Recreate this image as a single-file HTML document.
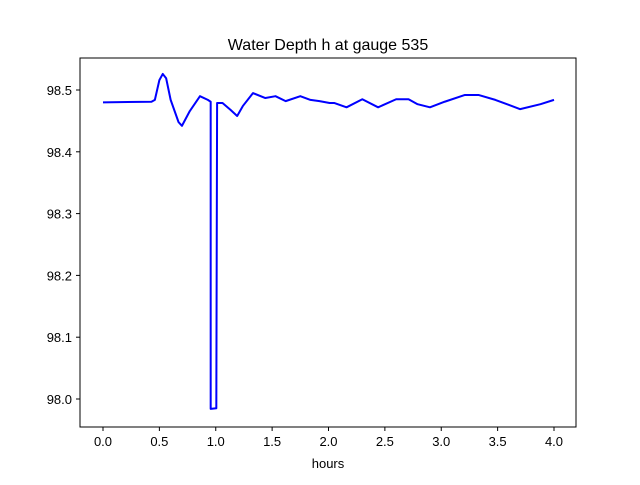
<!DOCTYPE html>
<html><head><meta charset="utf-8"><style>
body{margin:0;background:#fff;}
svg{font-family:"Liberation Sans","DejaVu Sans",sans-serif;}
</style></head><body>
<svg width="640" height="480">
<rect width="640" height="480" fill="#fff"/>
<text x="328" y="50" text-anchor="middle" font-size="16">Water Depth h at gauge 535</text>
<g id="ticks"></g>
<polyline id="line" fill="none" stroke="#0000ff" stroke-width="2" stroke-linejoin="round"/>
<rect x="80" y="58" width="496" height="369" fill="none" stroke="#000" stroke-width="1"/>
<text x="328" y="468" text-anchor="middle" font-size="13">hours</text>
</svg>
<script>
const hours=[0,0.43,0.46,0.5,0.53,0.56,0.6,0.67,0.7,0.77,0.86,0.93,0.955,0.955,1.005,1.012,1.06,1.13,1.19,1.24,1.33,1.44,1.53,1.62,1.75,1.84,1.92,2.01,2.05,2.16,2.3,2.44,2.6,2.71,2.79,2.9,3.03,3.21,3.33,3.48,3.7,3.88,4.0];
const depth=[98.48,98.481,98.484,98.516,98.526,98.519,98.484,98.448,98.442,98.466,98.49,98.484,98.481,97.984,97.985,98.479,98.479,98.468,98.458,98.474,98.495,98.487,98.49,98.482,98.49,98.484,98.482,98.479,98.479,98.472,98.485,98.472,98.485,98.485,98.477,98.472,98.481,98.492,98.492,98.484,98.469,98.477,98.484];
const xTicks=[0,0.5,1,1.5,2,2.5,3,3.5,4];
const yTicks=[98.0,98.1,98.2,98.3,98.4,98.5];
const xs=h=>103+h*112.75;
const ys=v=>90+(98.5-v)*618;
const NS="http://www.w3.org/2000/svg";
const line=document.getElementById('line');
line.setAttribute('points',hours.map((h,i)=>xs(h)+','+ys(depth[i])).join(' '));
const g=document.getElementById('ticks');
xTicks.forEach(t=>{
 const l=document.createElementNS(NS,'line');
 
 
 l.setAttribute('x1',xs(t));l.setAttribute('x2',xs(t));l.setAttribute('y1',427);l.setAttribute('y2',431);l.setAttribute('stroke','#000');
 g.appendChild(l);
 const tx=document.createElementNS(NS,'text');
 
 
 tx.setAttribute('x',xs(t));tx.setAttribute('y',446);tx.setAttribute('text-anchor','middle');tx.setAttribute('font-size','13');
 tx.textContent=t.toFixed(1);g.appendChild(tx);
});
yTicks.forEach(t=>{
 const l=document.createElementNS(NS,'line');
 
 
 l.setAttribute('x1',76);l.setAttribute('x2',80);l.setAttribute('y1',ys(t));l.setAttribute('y2',ys(t));l.setAttribute('stroke','#000');
 g.appendChild(l);
 const tx=document.createElementNS(NS,'text');
 
 
 tx.setAttribute('x',72);tx.setAttribute('y',ys(t)+5);tx.setAttribute('text-anchor','end');tx.setAttribute('font-size','13');
 tx.textContent=t.toFixed(1);g.appendChild(tx);
});
</script>
</body></html>
